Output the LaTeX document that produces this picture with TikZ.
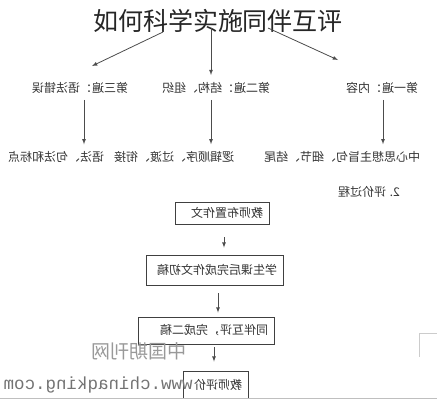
\documentclass[tikz,border=0pt]{standalone}
\usepackage{fontspec}
\newfontfamily\cjk{Noto Sans CJK SC}
\newfontfamily\wmono{Liberation Mono}
\begin{document}
\begin{tikzpicture}[x=1pt, y=-1pt,
	lbl/.style={font=\cjk\fontsize{12}{14}\selectfont, text=black!80, inner sep=0pt, xscale=-1},
	stepbox/.style={lbl, draw=black!75, line width=0.8pt, inner xsep=6pt, inner ysep=0pt, align=left},
	arr/.style={line width=0.8pt, draw=black!70, ->, >=latex}]
	\useasboundingbox (0,0) rectangle (437,400);
	\node[font=\cjk\fontsize{25}{28}\selectfont, text=black!85, inner sep=0pt] (title) at (218,21) {如何科学实施同伴互评};

	% three passes
	\node[lbl] (pass3) at (80,88) {第三遍：语法错误};
	\node[lbl] (pass2) at (216,88) {第二遍：结构、组织};
	\node[lbl] (pass1) at (382,88) {第一遍：内容};

	\coordinate (hubL) at (163,32);
	\coordinate (hubC) at (211,28);
	\coordinate (hubR) at (268,28);
	\coordinate (tipL) at (92,66);
	\coordinate (tipC) at (211,75);
	\coordinate (tipR) at (338,60);
	\draw[arr] (hubL) -- (tipL);
	\draw[arr] (hubC) -- (tipC);
	\draw[arr] (hubR) -- (tipR);

	% what each pass looks at
	\node[lbl] (look3) at (56,157) {语法、句法和标点};
	\node[lbl] (look2) at (174,157) {逻辑顺序、过渡、衔接};
	\node[lbl] (look1) at (342,157) {中心思想主旨句、细节、结尾};

	\draw[arr, shorten <=6pt, shorten >=7pt] ([xshift=4pt]pass3.south) -- ([xshift=4pt]pass3.south |- look3.north);
	\draw[arr, shorten <=6pt, shorten >=7pt] ([xshift=-5pt]pass2.south) -- ([xshift=-5pt]pass2.south |- look2.north);
	\draw[arr, shorten <=6pt, shorten >=7pt] ([xshift=1pt]pass1.south) -- ([xshift=1pt]pass1.south |- look1.north);

	\node[lbl] (steps) at (369,192) {2. 评价过程};

	% evaluation process
	\node[stepbox, text width=82pt, minimum height=22pt] (teach) at (222,213) {教师布置作文};
	\node[stepbox, text width=125pt, minimum height=30pt] (draft) at (214.5,270) {学生课后完成作文初稿};
	\node[stepbox, text width=124pt, minimum height=27pt] (peer) at (206,330.5) {同伴互评，完成二稿};
	\node[stepbox, text width=53pt, minimum height=27pt] (grade) at (215.5,384.5) {教师评价};

	\draw[arr, shorten <=13pt, shorten >=7pt] ([xshift=2pt]teach.south) -- ([xshift=2pt]teach.south |- draft.north);
	\draw[arr, shorten <=8pt, shorten >=4pt] ([xshift=3.5pt]draft.south) -- ([xshift=3.5pt]draft.south |- peer.north);
	\draw[arr, shorten <=3pt, shorten >=9pt] ([xshift=8pt]peer.south) -- ([xshift=8pt]peer.south |- grade.north);

	% watermark and page edges
	\node[font=\cjk\fontsize{19}{22}\selectfont, text=black!40, inner sep=0pt, xscale=-1] (mark) at (139,351) {中国期刊网};
	\node[font=\wmono\fontsize{17.5}{20}\selectfont, text=black!55, inner sep=0pt, xscale=-1] (site) at (98,385) {www.chinaqking.com};
	\draw[black!25, line width=0.8pt] (0,398.5) -- (437,398.5);
	\draw[black!20, line width=0.8pt] (437,333) -- (419,333) -- (419,357);
\end{tikzpicture}
\end{document}
